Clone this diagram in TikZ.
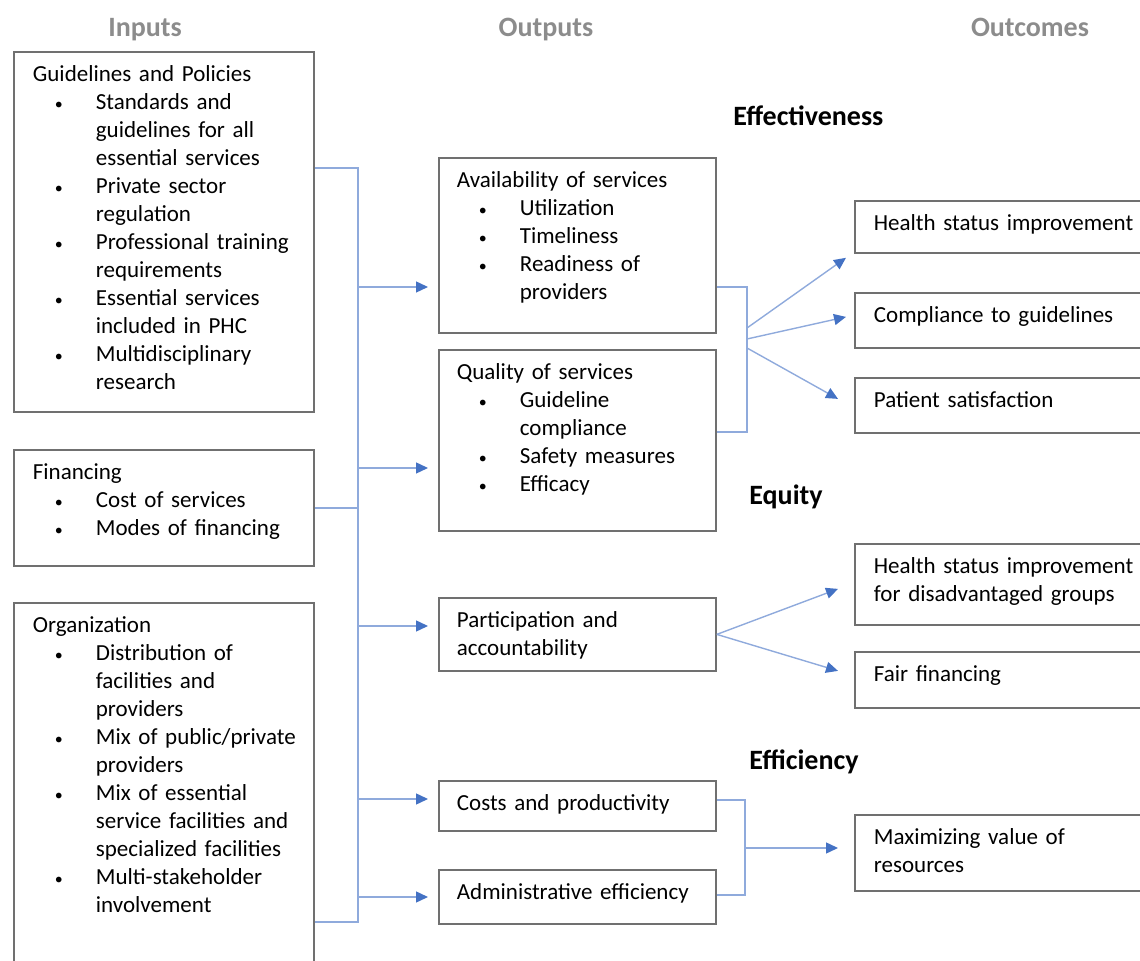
\documentclass[tikz,border=0pt]{standalone}
\usepackage{fontspec}
\setmainfont{Carlito}
\usetikzlibrary{arrows.meta}
\definecolor{boxgray}{HTML}{707070}
\definecolor{headgray}{HTML}{8C8C8C}
\definecolor{linkblue}{HTML}{8FAADC}
\definecolor{tipblue}{HTML}{4472C4}
\newcommand{\bul}{\makebox[31.5pt][l]{\hspace{11pt}{\fontsize{8pt}{8pt}\selectfont\textbullet}}}
\newcommand{\ind}{\hspace*{31.5pt}}
\hyphenpenalty=10000

\begin{document}
\begin{tikzpicture}[x=0.5pt,y=-0.5pt,
	every node/.style={font=\fontsize{11.5pt}{14pt}\selectfont},
	box/.style={draw=boxgray,line width=0.9pt,anchor=north west,inner xsep=9.5pt,inner ysep=0pt,align=left,text height=15pt},
	inbox/.style={box,text width=131pt},
	outbox/.style={box,inner xsep=9pt,text width=120.5pt},
	resbox/.style={box,text width=131pt},
	head/.style={font=\fontsize{14pt}{16pt}\selectfont\bfseries,text=headgray,anchor=base},
	dim/.style={font=\fontsize{14pt}{16pt}\selectfont\bfseries,anchor=west,inner sep=0pt},
	link/.style={draw=linkblue,line width=0.7pt},
	arr/.style={link,-{Triangle[length=6pt,width=5.5pt,color=tipblue]}}]
	\clip (0,0) rectangle (1140,961);
	% column titles
	\node[head] (h-in) at (145,37) {Inputs};
	\node[head] (h-out) at (546,37) {Outputs};
	\node[head] (h-res) at (1030,37) {Outcomes};
	% inputs
	\node[inbox,text depth=165pt] (gp) at (13,51) {Guidelines and Policies\\
		\bul Standards and\\ \ind guidelines for all\\ \ind essential services\\
		\bul \mbox{Private sector}\\ \ind regulation\\
		\bul \mbox{Professional training}\\ \ind requirements\\
		\bul Essential services\\ \ind included in PHC\\
		\bul Multidisciplinary\\ \ind research};
	\node[inbox,text depth=43pt] (fin) at (13,449) {Financing\\
		\bul Cost of services\\
		\bul Modes of financing};
	\node[inbox,text depth=195pt] (org) at (13,602) {Organization\\
		\bul Distribution of\\ \ind facilities and\\ \ind providers\\
		\bul \mbox{Mix of public/private}\\ \ind providers\\
		\bul Mix of essential\\ \ind \mbox{service facilities and}\\ \ind \mbox{specialized facilities}\\
		\bul Multi-stakeholder\\ \ind involvement};
	% outputs
	\node[outbox,text depth=72.5pt] (avail) at (438,157) {Availability of services\\
		\bul Utilization\\
		\bul Timeliness\\
		\bul Readiness of\\ \ind providers};
	\node[outbox,text depth=75.5pt] (qual) at (438,349) {Quality of services\\
		\bul Guideline\\ \ind compliance\\
		\bul Safety measures\\
		\bul Efficacy};
	\node[outbox,text depth=21.5pt] (part) at (438,597) {Participation and\\ accountability};
	\node[outbox,text depth=10pt] (cost) at (438,780) {Costs and productivity};
	\node[outbox,text depth=12pt] (admin) at (438,869) {Administrative efficiency};
	% outcomes
	\node[dim] (d-eff) at (733,116) {Effectiveness};
	\node[dim] (d-equ) at (749,497) {Equity};
	\node[dim] (d-effi) at (749,762) {Efficiency};
	\node[resbox,text depth=11pt] (health) at (854,200) {Health status improvement};
	\node[resbox,text depth=12.5pt] (comp) at (854,292) {Compliance to guidelines};
	\node[resbox,text depth=12.5pt] (pat) at (854,377) {Patient satisfaction};
	\node[resbox,text depth=25.5pt] (dis) at (854,543) {Health status improvement\\ for disadvantaged groups};
	\node[resbox,text depth=13pt] (fair) at (854,651) {Fair financing};
	\node[resbox,text depth=23pt] (maxv) at (854,814) {Maximizing value of\\ resources};
	% inputs to outputs
	\coordinate (bus-top) at (358,168);
	\coordinate (bus-bot) at (358,922);
	\draw[link] (gp.east |- bus-top) -- (bus-top) -- (bus-bot) -- (org.east |- bus-bot);
	\draw[link] (fin.east) -- (fin.east -| bus-top);
	\foreach \n/\y in {avail/287,qual/468,part/626,cost/799,admin/897}{
		\draw[arr,shorten >=5pt] (bus-top |- 0,\y) -- (\n.west |- 0,\y);
	}
	% effectiveness
	\coordinate (eff) at (747,287);
	\coordinate (fan1) at (747,328);
	\coordinate (fan2) at (747,339);
	\coordinate (fan3) at (747,348);
	\draw[link] (avail.east |- eff) -- (eff) -- (eff |- 0,432) -- (qual.east |- 0,432);
	\draw[arr] (fan1) -- ([shift={(-8,4)}]health.south west);
	\draw[arr] (fan2) -- ([shift={(-8,-3.5)}]comp.west);
	\draw[arr] (fan3) -- ([shift={(-16,-6.5)}]pat.west);
	% equity
	\draw[arr] (part.east) -- ([shift={(-16,4.5)}]dis.west);
	\draw[arr] (part.east) -- ([shift={(-16,-9)}]fair.west);
	% efficiency
	\coordinate (effi) at (745,800);
	\draw[link] (cost.east |- effi) -- (effi) -- (effi |- 0,895) -- (admin.east |- 0,895);
	\draw[arr,shorten >=8pt] (effi |- 0,848) -- (maxv.west |- 0,848);
\end{tikzpicture}
\end{document}
